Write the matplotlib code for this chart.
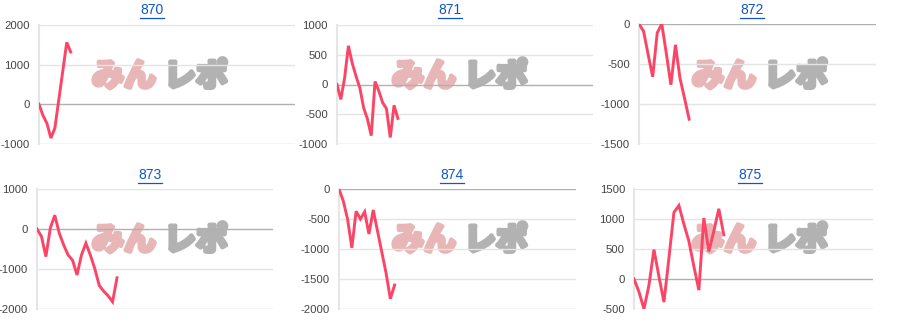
import numpy as np
import matplotlib
matplotlib.use("Agg")
import matplotlib.pyplot as plt
import matplotlib.patheffects as pe
from matplotlib.lines import Line2D

# machine numbers shown as titles
titles = ["870", "871", "872", "873", "874", "875"]

# cumulative values per machine
vals_870 = [0, -280, -480, -850, -600, 120, 840, 1560, 1320]
vals_871 = [0, -250, 110, 650, 360, 140, -55, -390, -580, -860, 50, -110, -305, -405,
            -890, -350, -570]
vals_872 = [0, -90, -380, -660, -110, 0, -370, -760, -260, -680, -930, -1190]
vals_873 = [0, -185, -690, 25, 345, -100, -400, -650, -780, -1150, -650, -355, -650,
            -990, -1410, -1555, -1670, -1820, -1220]
vals_874 = [0, -200, -500, -980, -370, -500, -380, -750, -350, -700, -1050, -1400,
            -1830, -1600]
vals_875 = [0, -215, -500, -100, 490, 40, -385, 350, 1110, 1225, 915, 630, 210, -185,
            1015, 460, 800, 1170, 735]
series = [vals_870, vals_871, vals_872, vals_873, vals_874, vals_875]

# y axis range and tick step per panel
y_ranges = [(-1000, 2000, 1000), (-1000, 1000, 500), (-1500, 0, 500),
            (-2000, 1000, 1000), (-2000, 0, 500), (-500, 1500, 500)]

W, H = 900, 330
# axes boxes in pixels: left, top, right, bottom ; x extent (slots)
boxes = [(39, 25, 295, 144), (337, 25, 593, 144), (639, 24, 876, 144),
         (37, 189, 273, 309), (339, 189, 576, 309), (634, 189, 873, 309)]
x_extent = [64.6, 67.3, 52, 53.1, 55.4, 47.9]
title_pos = [(152, 10), (450, 10), (752, 10), (150, 175), (452, 175), (750, 175)]
logo_pos = [(0, 77), (300, 77), (600, 77), (0, 241), (300, 241), (600, 241)]

LINE = "#fb4566"
BLUE = "#1155cc"
PINK = "#e8b6b6"
GREY = "#b2b2b2"

fig = plt.figure(figsize=(W / 100, H / 100), dpi=100)
fig.patch.set_facecolor("white")

for i in range(6):
    l, t, r, b = boxes[i]
    ax = fig.add_axes([l / W, 1 - b / H, (r - l) / W, (b - t) / H])
    ax.set_facecolor("none")
    lo, hi, step = y_ranges[i]
    ticks = np.arange(lo, hi + step, step)
    for v in ticks:
        if v == 0:
            c = "#b0b0b0"
        elif v == lo:
            c = "#d0d0d0"
        else:
            c = "#e4e4e4"
        ax.axhline(v, color=c, lw=1, zorder=1)
    y = series[i]
    ax.plot(np.arange(len(y)), y, color=LINE, lw=2.1, zorder=3,
            solid_joinstyle="miter")
    ax.set_xlim(0, x_extent[i])
    ax.set_ylim(lo, hi)
    ax.set_yticks(ticks)
    ax.set_yticklabels([f"{int(v)}" for v in ticks])
    ax.set_xticks([])
    for s in ["top", "right", "bottom"]:
        ax.spines[s].set_visible(False)
    ax.spines["left"].set_color("#e6e6e6")
    ax.spines["left"].set_linewidth(1.5)
    ax.tick_params(axis="y", length=0, pad=6.5, labelsize=8.2, labelcolor="#444444")
    for lab in ax.get_yticklabels():
        lab.set_fontfamily("Liberation Sans")

    # watermark behind the chart
    cx, cy = logo_pos[i]
    for txt, col, dx in [("みん", PINK, 92), ("レポ", GREY, 164)]:
        fig.text((cx + dx) / W, 1 - cy / H, txt, fontsize=23, fontweight="bold",
                 family=["Noto Sans CJK JP", "DejaVu Sans"], color=col,
                 ha="left", va="center", zorder=-1,
                 path_effects=[pe.withStroke(linewidth=3.2, foreground=col)])

# titles, underlined like links
title_texts = []
for i in range(6):
    tx, ty = title_pos[i]
    tt = fig.text(tx / W, 1 - ty / H, titles[i], fontsize=10, color=BLUE,
                  family="Liberation Sans", ha="center", va="center")
    title_texts.append(tt)

fig.canvas.draw()
renderer = fig.canvas.get_renderer()
for tt in title_texts:
    bb = tt.get_window_extent(renderer)
    yl = bb.y0 - 0.5
    fig.add_artist(Line2D([bb.x0 / W, bb.x1 / W], [yl / H, yl / H],
                          transform=fig.transFigure, color=BLUE, lw=0.9))

fig.savefig("out.png", dpi=100)
